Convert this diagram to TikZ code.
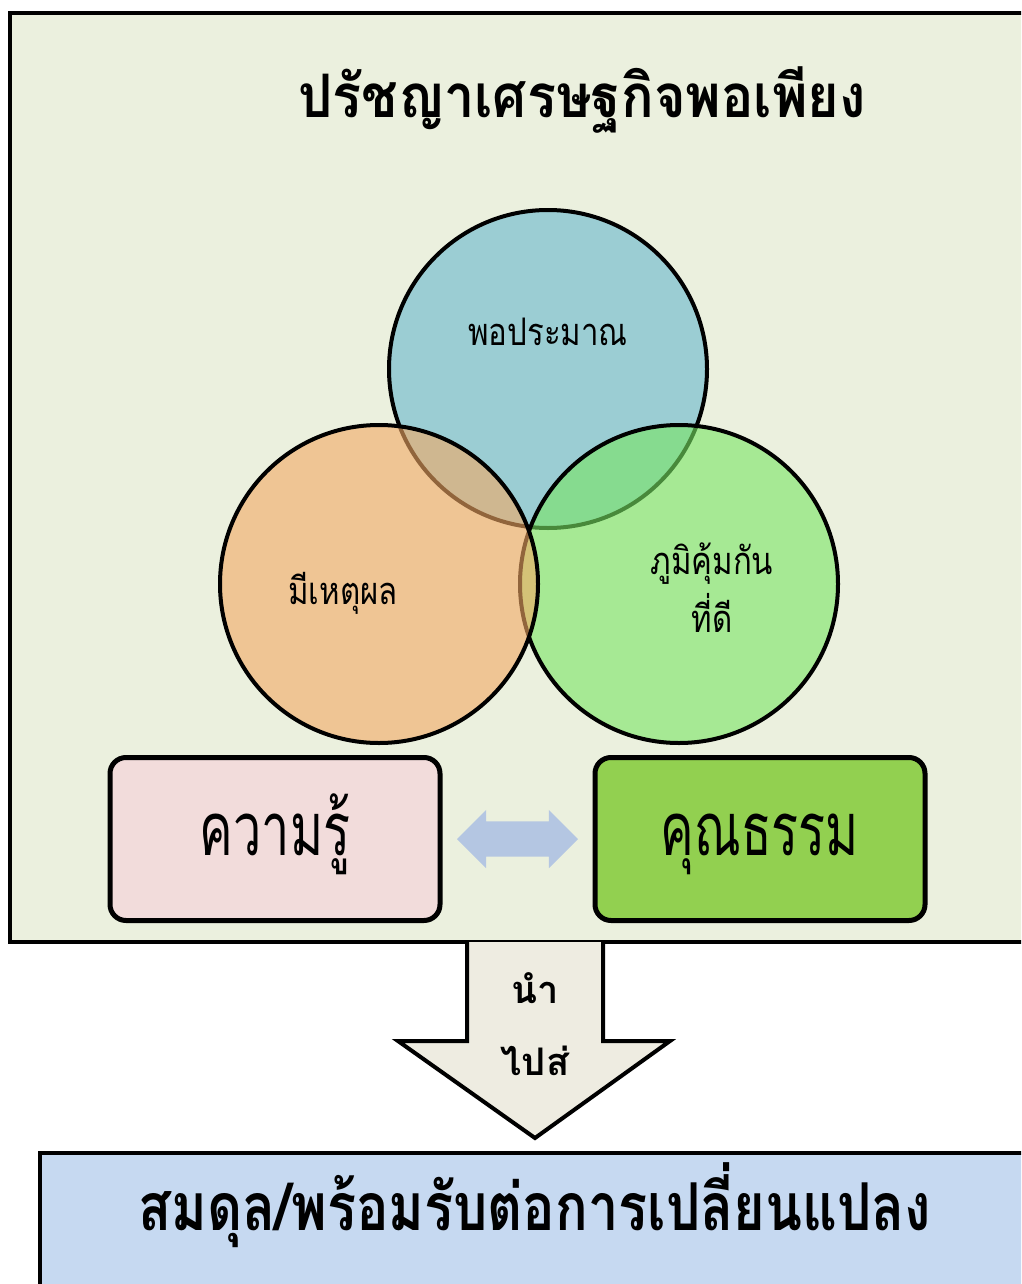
\documentclass[tikz,border=0pt]{standalone}
\usepackage{fontspec}
\newfontfamily\thaifont[Script=Thai]{Loma}
\newfontfamily\thaiwide[Script=Thai,FakeStretch=0.9]{Loma}
\newfontfamily\thaislim[Script=Thai,FakeStretch=0.82]{Loma}
\newfontfamily\thaicond[Script=Thai,FakeStretch=0.68]{Loma}
\usetikzlibrary{positioning, calc, shapes.arrows}

\definecolor{panelbg}{HTML}{EBF0DE}
\definecolor{moderate}{RGB}{102,182,204}
\definecolor{reason}{RGB}{243,169,100}
\definecolor{immune}{RGB}{120,229,99}
\definecolor{knowpink}{HTML}{F2DCDB}
\definecolor{virtuegreen}{HTML}{92D050}
\definecolor{linkblue}{HTML}{B4C6E2}
\definecolor{leadgray}{HTML}{EEECE1}
\definecolor{resultblue}{HTML}{C6D9F1}

\tikzset{
  pillar/.style={circle, draw=black, line width=4pt, fill opacity=0.6,
    draw opacity=1, minimum size=318pt, inner sep=0pt},
  pillartext/.style={font=\thaislim\fontsize{38}{58}\selectfont, align=center, anchor=base},
  valuebox/.style={draw=black, line width=5pt, rounded corners=16pt,
    minimum width=330pt, minimum height=163pt, inner sep=0pt,
    text height=50pt, text depth=18pt,
    font=\thaicond\fontsize{74}{90}\selectfont}
}

\begin{document}
\begin{tikzpicture}[x=1pt, y=-1pt]
  \clip (0,0) rectangle (1021,1284);
  \fill[white] (0,0) rectangle (1021,1284);

  % outer panel
  \draw[line width=4pt, fill=panelbg] (10,13) rectangle (1040,942);
  \node[font=\thaiwide\bfseries\fontsize{60}{70}\selectfont, anchor=base] (title)
    at (582,118) {ปรัชญาเศรษฐกิจพอเพียง};

  % three circles
  \node[pillar, fill=moderate] (mod) at (548,369) {};
  \node[pillar, fill=immune] (imm) at (679,584) {};
  \node[pillar, fill=reason] (rea) at (379,584) {};
  \node[pillartext] (modtext) at (548,345) {พอประมาณ};
  \node[pillartext] (reatext) at (343,604) {มีเหตุผล};
  \node[pillartext] (immtext) at (712,632) {ภูมิคุ้มกัน\\ที่ดี};

  % knowledge and virtue
  \node[valuebox, fill=knowpink] (know) at (275,839) {ความรู้};
  \node[valuebox, fill=virtuegreen] (virtue) at (760,839) {คุณธรรม};
  \node[double arrow, fill=linkblue, minimum height=121pt, inner xsep=0pt,
    inner ysep=17.5pt, double arrow head extend=11.5pt]
    (link) at ($(know.east)!0.5!(virtue.west)$) {};

  % leads to
  \draw[line width=4pt, fill=leadgray, miter limit=20]
    (467,942) -- (467,1041) -- (398,1041) -- (535,1138)
    -- (670,1041) -- (603,1041) -- (603,942);
  \node[font=\thaifont\bfseries\fontsize{38}{72}\selectfont, align=center, anchor=base]
    (lead) at (535,1075) {นำ\\ไปส่};

  % result
  \draw[line width=4pt, fill=resultblue] (40,1153) rectangle (1040,1300);
  \node[font=\thaislim\bfseries\fontsize{66}{70}\selectfont, anchor=base] (result)
    at (535,1230) {สมดุล/พร้อมรับต่อการเปลี่ยนแปลง};
\end{tikzpicture}
\end{document}
